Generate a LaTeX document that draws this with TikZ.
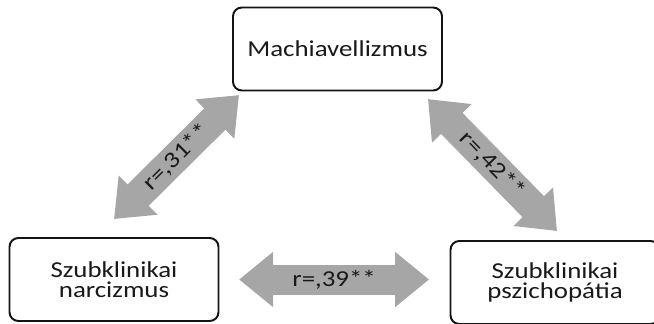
\documentclass[tikz,border=0pt]{standalone}
\usepackage{fontspec}
\setmainfont[FakeStretch=1.18]{Carlito}
\usepackage{tikz}
\usetikzlibrary{
  positioning,
  arrows.meta,
  calc
}
\definecolor{boxborder}{RGB}{20,20,20}
\definecolor{boxtext}{RGB}{25,25,25}
\definecolor{corrgray}{RGB}{166,166,166}

\begin{document}
\begin{tikzpicture}[
      font=\fontsize{16.2}{14.4}\selectfont,
      trait/.style={
        rectangle,
        rounded corners=0.22cm,
        draw=boxborder,
        fill=white,
        line width=1.4pt,
        minimum width=5.225cm,
        minimum height=2.075cm,
        inner sep=0pt,
        align=center,
        text=boxtext
      },
      corr/.style={
        line width=0.75cm,
        draw=corrgray,
        {Triangle[width=1.325cm,length=0.85cm]}-{Triangle[width=1.325cm,length=0.85cm]}
      },
      corrlabel/.style={
        midway,
        sloped,
        inner sep=0pt,
        text=boxtext
      }
    ]

    \useasboundingbox (0,0) rectangle (16.35,8.075);

    % Coordinates
    \coordinate (top) at (8.4375,6.85);
    \coordinate (left) at (2.85,1.0875);
    \coordinate (right) at (13.875,1.0125);

    % Traits
    \node[trait] (mach) at (top) {Machiavellizmus};
    \node[trait] (narc) at (left) {Szubklinikai\\narcizmus};
    \node[trait] (psych) at (right) {Szubklinikai\\pszichopátia};

    % Correlations
    \draw[corr] ([yshift=0.45cm]narc.north)
      -- ([shift={(0.175cm,-0.09cm)}]mach.south west)
      node[corrlabel] {r=,31**};
    \draw[corr] ([shift={(-0.375cm,-0.19cm)}]mach.south east)
      -- ([shift={(0.05cm,0.225cm)}]psych.north)
      node[corrlabel] {r=,42**};
    \draw[corr] ([xshift=0.49cm]narc.east)
      -- ([xshift=-0.51cm]narc.east -| psych.west)
      node[corrlabel] {r=,39**};

\end{tikzpicture}
\end{document}
